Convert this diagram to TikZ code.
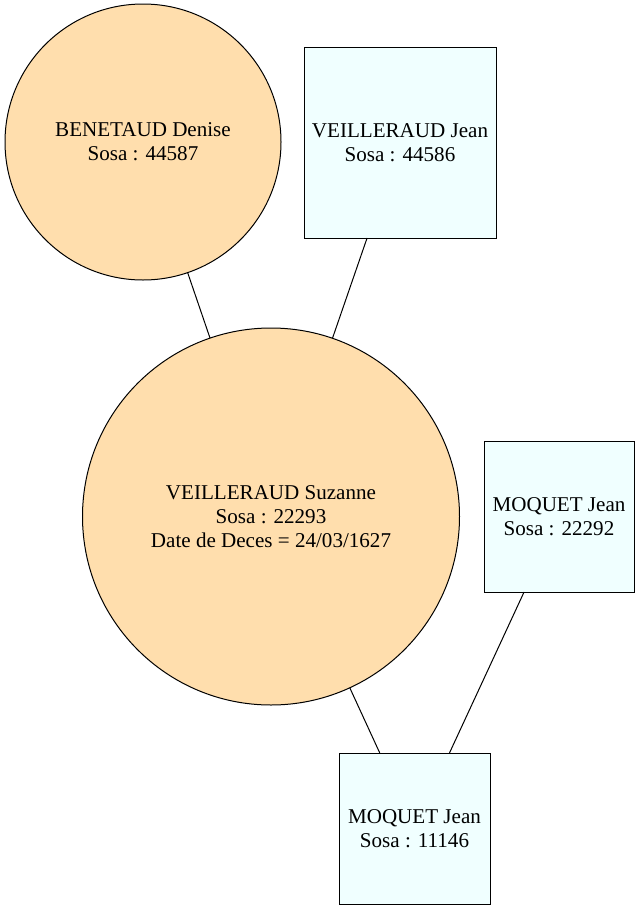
\documentclass[tikz,border=0pt]{standalone}
\usepackage{fontspec}
\setmainfont{Liberation Serif}
\usetikzlibrary{positioning}

\begin{document}
\begin{tikzpicture}[
  x=0.75pt, y=-0.75pt,
  femme/.style={draw, circle, fill=cfemme, line width=0.75pt, align=center,
                inner sep=0pt, outer sep=0pt, font=\fontsize{15.8}{18}\selectfont},
  homme/.style={draw, rectangle, fill=chomme, line width=0.75pt, align=center,
                inner sep=0pt, outer sep=0pt, font=\fontsize{15.8}{18}\selectfont},
  lien/.style={line width=0.75pt}
]
\definecolor{cfemme}{HTML}{FFDEAD}
\definecolor{chomme}{HTML}{F0FFFF}
\useasboundingbox (0,0) rectangle (640,910);

% parents
\node[femme, minimum size=276*0.75pt] (denise) at (143,142) {BENETAUD Denise\\Sosa : 44587};
\node[homme, minimum width=192*0.75pt, minimum height=191*0.75pt] (jean1) at (400,142.5) {VEILLERAUD Jean\\Sosa : 44586};

% Sosa 22293
\node[femme, minimum size=377*0.75pt] (suzanne) at (271,516.5) {VEILLERAUD Suzanne\\Sosa : 22293\\Date de Deces = 24/03/1627};
\node[homme, minimum width=150*0.75pt, minimum height=151*0.75pt] (jean2) at (559,516.5) {MOQUET Jean\\Sosa : 22292};

% enfant
\node[homme, minimum width=151*0.75pt, minimum height=151*0.75pt] (jean3) at (414.5,828.5) {MOQUET Jean\\Sosa : 11146};

\draw[lien] (denise) -- (suzanne);
\draw[lien] (jean1) -- (suzanne);
\draw[lien] (suzanne) -- (jean3);
\draw[lien] (jean2) -- (jean3);

\end{tikzpicture}
\end{document}
